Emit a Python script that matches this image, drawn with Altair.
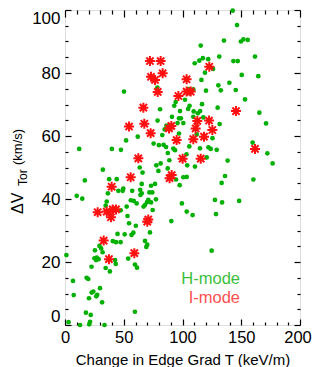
import altair as alt
import pandas as pd

# ---------------- data ----------------
h_x = [142.7, 146.4, 135.3, 151.8, 149.7, 155.5, 115.5, 131.3, 161.7, 117.3, 121.9, 114.3, 110.4, 143.3, 147.0,
       126.0, 119.1, 150.4, 164.5, 116.1, 139.9, 130.5, 50.2, 78.6, 105.4, 109.2, 120.0, 132.6, 145.3, 102.1,
       153.2, 94.2, 93.0, 116.6,
       106.0, 104.8, 129.9, 80.9, 97.9, 109.5, 115.0, 113.0, 165.4, 109.2, 117.7, 91.0, 97.0, 98.6, 78.8, 95.8,
       100.7, 131.6, 171.1, 86.3, 84.8, 82.8, 97.0, 112.1, 61.9, 125.5,
       52.0, 159.7, 105.8, 75.4, 79.9, 83.9, 86.0, 92.2, 93.6, 87.5, 114.9, 122.1, 124.0, 129.1, 12.1, 39.9,
       47.6, 103.4, 172.2, 120.6, 138.4, 88.8, 81.4, 77.7, 104.0, 110.6, 176.7, 63.6, 87.4,
       32.2, 66.0, 79.5, 100.7, 103.6, 136.2, 94.5, 37.6, 44.0, 16.9, 133.3, 160.3, 65.3, 73.2, 76.6, 97.6,
       49.6, 49.1, 45.4, 36.5, 57.2, 64.0, 65.3, 64.2, 71.8, 74.3, 10.0, 14.7,
       77.4, 70.9, 69.8, 73.2, 68.1, 66.9, 61.0, 56.0, 58.5, 35.5, 34.6, 52.5, 47.4, 74.6, 127.6, 133.7, 148.2,
       99.5, 103.6, 108.6, 128.5, 53.2, 54.5, 90.5, 60.3,
       72.3, 44.7, 50.8, 56.6, 58.2, 40.7, 43.4, 47.3, 68.1, 70.0, 69.2, 29.3, 30.8, 25.5, 32.0, 124.8, 27.0,
       26.4, 28.6, 25.0, 1.2, 42.6, 43.2, 53.8,
       22.6, 34.6, 38.2, 59.5, 61.3, 18.4, 19.8, 6.8, 29.8, 22.7, 24.1, 26.6, 27.4, 7.4, 20.4, 31.6, 17.8, 21.9,
       59.5, 3.0, 21.3, 20.6, 12.8, 33.6]
h_y = [99.8, 95.2, 90.3, 90.7, 90.0, 90.5, 88.7, 85.2, 85.2, 84.7, 84.4, 83.9, 83.1, 83.8, 83.8,
       81.3, 80.1, 79.4, 79.0, 77.8, 76.9, 76.1, 74.1, 75.4, 74.9, 74.8, 74.4, 74.5, 74.6, 71.5,
       71.6, 70.8, 69.6, 70.1,
       69.6, 68.6, 69.0, 68.5, 67.9, 67.8, 67.9, 67.2, 67.4, 66.1, 65.9, 66.1, 65.6, 65.6, 64.9, 64.1,
       64.1, 63.8, 64.0, 63.3, 62.1, 60.3, 60.8, 60.5, 59.8, 59.3,
       58.6, 57.9, 56.7, 57.6, 57.1, 57.2, 56.5, 56.0, 55.5, 54.6, 56.1, 56.4, 55.9, 55.6, 55.9, 55.9,
       55.6, 54.2, 54.5, 53.2, 52.2, 52.3, 51.3, 50.7, 50.7, 50.3, 51.3, 50.0, 49.7,
       49.3, 48.4, 48.9, 46.9, 47.0, 47.3, 46.2, 46.3, 46.3, 45.9, 45.1, 46.2, 44.8, 44.2, 44.8, 44.4,
       43.3, 42.6, 42.6, 41.8, 42.6, 42.9, 41.8, 41.3, 42.1, 42.1, 41.0, 40.1,
       39.9, 39.7, 39.0, 38.9, 38.1, 37.6, 38.6, 39.6, 39.4, 39.2, 37.9, 37.6, 36.4, 36.5, 39.7, 38.9, 39.4,
       38.6, 36.0, 34.9, 35.2, 34.6, 32.3, 33.0, 31.5,
       29.4, 28.9, 28.8, 28.6, 29.3, 26.6, 26.3, 26.3, 26.7, 25.5, 24.8, 25.1, 24.3, 23.7, 23.1, 23.6, 21.4,
       20.6, 20.9, 21.2, 22.2, 20.6, 19.4, 21.1,
       18.5, 18.1, 17.0, 19.2, 18.2, 15.0, 14.6, 14.0, 11.7, 10.3, 10.6, 9.1, 9.6, 9.5, 8.5, 7.2, 3.9, 3.2,
       4.2, 0.9, 1.0, 0.2, 0.0, 0.0]

i_x = [72.3, 81.4, 83.1, 73.2, 76.6, 78.9, 103.5, 103.5, 107.0, 96.5, 66.7, 54.5, 67.5, 72.9, 88.5, 90.5,
       95.0, 62.4, 100.1, 122.8, 145.5, 112.6, 122.6, 111.2, 125.4, 118.3, 109.2, 161.7, 115.5, 55.9, 90.8,
       89.0, 39.7, 27.8, 35.5, 40.6, 43.4, 39.1, 70.9, 70.0, 32.9, 59.0, 37.4]
i_y = [83.8, 83.8, 79.9, 78.8, 77.8, 74.0, 78.0, 74.1, 74.1, 72.7, 69.0, 63.0, 63.9, 60.9, 62.4, 63.2,
       58.7, 52.9, 52.8, 82.0, 67.9, 64.8, 64.9, 62.4, 61.9, 59.8, 59.0, 55.9, 52.8, 46.9, 47.6,
       46.6, 43.9, 35.8, 36.0, 36.7, 36.7, 34.2, 33.5, 32.8, 26.8, 22.8, 20.9]

x_minor_ticks = list(range(0, 201, 10))
y_minor_ticks = list(range(0, 101, 5))
x_labels = [0, 50, 100, 150, 200]
y_labels = [0, 20, 40, 60, 80, 100]
legend_text = ["H-mode", "I-mode"]
x_title = "Change in Edge Grad T (keV/m)"
y_title_parts = ["\u0394V", "Tor", "(km/s)"]

# ---------------- styling ----------------
W, H = 235, 315
FONT = "Liberation Sans"
GREEN = "#00b000"
RED = "#ff1010"
LEG_GREEN = "#3cc03c"
LEG_RED = "#ff5050"
ASTERISK = "M-1,0L1,0M0,-1L0,1M-0.72,-0.72L0.72,0.72M-0.72,0.72L0.72,-0.72"

h_df = pd.DataFrame({"x": h_x, "y": h_y})
i_df = pd.DataFrame({"x": i_x, "y": i_y})

xscale = alt.Scale(domain=[0, 200], nice=False, zero=False)
yscale = alt.Scale(domain=[0, 100], nice=False, zero=False)


def tick_size(step, big, small):
    return {"condition": {"test": f"datum.value % {step} === 0", "value": big}, "value": small}


def tick_axis(orient, values, step, offset, big, small):
    return alt.Axis(orient=orient, values=values, offset=offset, labels=False, domain=False, grid=False,
                    ticks=True, tickColor="#000", tickWidth=1.2, tickSize=tick_size(step, big, small), title="")


green = alt.Chart(h_df).mark_circle(size=22, color=GREEN, opacity=1).encode(
    x=alt.X("x:Q", scale=xscale, axis=alt.Axis(
        orient="bottom", values=x_labels, ticks=False, domain=False, grid=False,
        labelFont=FONT, labelFontSize=16.5, labelColor="#000", labelPadding=4, labelFlush=False,
        labelOffset={"condition": {"test": "datum.value === 200", "value": -2.5}, "value": 0},
        title=x_title, titleFont=FONT, titleFontSize=15, titleFontWeight="normal", titleColor="#000",
        titleY=39, titleBaseline="alphabetic")),
    y=alt.Y("y:Q", scale=yscale, axis=alt.Axis(
        orient="left", values=y_labels, ticks=False, domain=False, grid=False,
        labelFont=FONT, labelFontSize=17, labelColor="#000", labelPadding=5, labelFlush=True, title="")),
)

red = alt.Chart(i_df).mark_point(shape=ASTERISK, filled=False, size=100, strokeWidth=2, color=RED,
                                 opacity=1).encode(
    x=alt.X("x:Q", scale=xscale, axis=tick_axis("top", x_minor_ticks, 50, -H, 6, 3)),
    y=alt.Y("y:Q", scale=yscale, axis=tick_axis("right", y_minor_ticks, 20, -W, 6, 3)),
)

ghost = alt.Chart(i_df).mark_point(opacity=0, size=1).encode(
    x=alt.X("x:Q", scale=xscale, axis=tick_axis("bottom", x_minor_ticks, 50, -H, 7, 4)),
    y=alt.Y("y:Q", scale=yscale, axis=tick_axis("left", y_minor_ticks, 20, -W, 6, 3)),
)

one = pd.DataFrame({"a": [0]})


def label(text, x, y, size, color, align="right", angle=0):
    return alt.Chart(one).mark_text(text=text, font=FONT, fontSize=size, color=color, align=align,
                                    baseline="alphabetic", angle=angle).encode(
        x=alt.value(x), y=alt.value(y))


leg_h = label(legend_text[0], 175, 274, 16.5, LEG_GREEN)
leg_i = label(legend_text[1], 175, 293, 16.5, LEG_RED)

yt1 = label(y_title_parts[0], -42, 204, 16, "#000", align="left", angle=270)
yt2 = label(y_title_parts[1], -38, 176, 12, "#000", align="left", angle=270)
yt3 = label(y_title_parts[2], -43, 155, 13, "#000", align="left", angle=270)

chart = alt.layer(green, red, ghost, leg_h, leg_i, yt1, yt2, yt3).resolve_axis(
    x="independent", y="independent"
).properties(
    width=W, height=H,
    autosize=alt.AutoSizeParams(type="none"),
    padding={"left": 57, "top": 2, "right": 12, "bottom": 42},
).configure_view(stroke="#000", strokeWidth=1.5).configure(background="white")

chart.save("out.html", embed_options={"renderer": "svg", "actions": False})
